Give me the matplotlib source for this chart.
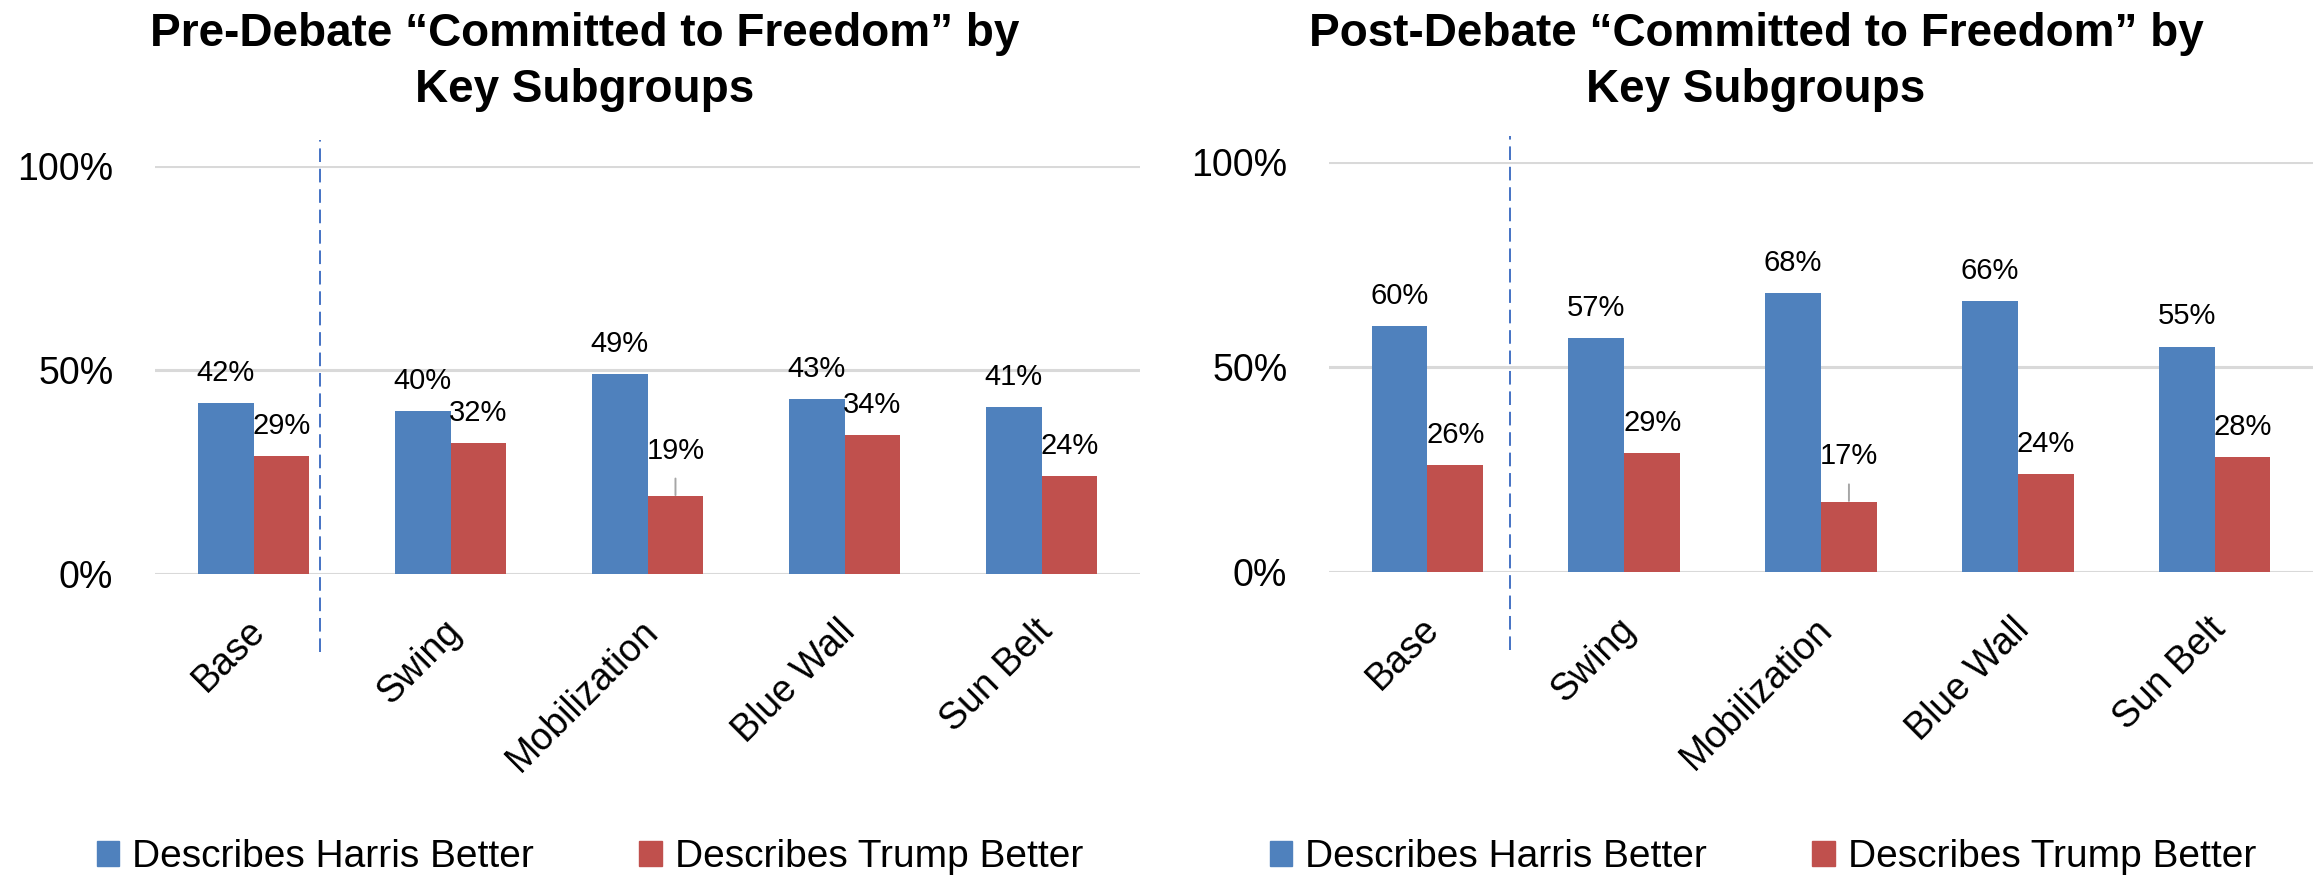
import matplotlib
matplotlib.use("Agg")
import matplotlib.pyplot as plt
import matplotlib.transforms as mtransforms
from matplotlib.patches import Patch
import numpy as np

plt.rcParams['font.family'] = ['Liberation Sans', 'DejaVu Sans']

categories = ["Base", "Swing", "Mobilization", "Blue Wall", "Sun Belt"]
pre_harris = [42, 40, 49, 43, 41]
pre_trump = [29, 32, 19, 34, 24]
post_harris = [60, 57, 68, 66, 55]
post_trump = [26, 29, 17, 24, 28]
series_names = ["Describes Harris Better", "Describes Trump Better"]
titles = ["Pre-Debate \u201cCommitted to Freedom\u201d by\nKey Subgroups",
          "Post-Debate \u201cCommitted to Freedom\u201d by\nKey Subgroups"]

BLUE = "#4F81BD"
RED = "#C0504D"
GRID = "#D9D9D9"

W, H = 2323, 877
fig = plt.figure(figsize=(W / 100, H / 100), dpi=100)


def frac(x0, x1, ytop, ybot):
    return [x0 / W, 1 - ybot / H, (x1 - x0) / W, (ybot - ytop) / H]


panels = [
    dict(rect=frac(155, 1140, 166, 574), h=pre_harris, t=pre_trump, div=0.34,
         title=titles[0], tx=585, lx=590),
    dict(rect=frac(1329, 2313, 162, 572), h=post_harris, t=post_trump, div=0.42,
         title=titles[1], tx=1756, lx=1763),
]

x = np.arange(len(categories))
bw = 0.284

for p in panels:
    ax = fig.add_axes(p["rect"])
    hv = np.array(p["h"]) / 100
    tv = np.array(p["t"]) / 100
    ax.bar(x - bw / 2, hv, bw, color=BLUE, zorder=3)
    ax.bar(x + bw / 2, tv, bw, color=RED, zorder=3)

    ax.set_xlim(-0.5, 4.5)
    ax.set_ylim(0, 1)
    ax.set_yticks([0, 0.5, 1])
    ax.set_yticklabels(["0%", "50%", "100%"])
    ax.yaxis.grid(True, color=GRID, linewidth=2.2, zorder=0)
    ax.set_axisbelow(True)
    for s in ax.spines.values():
        s.set_visible(False)
    ax.tick_params(axis="y", length=0, labelsize=27, pad=30)
    ax.tick_params(axis="x", length=0, labelsize=27, pad=28)
    ax.set_xticks(x)
    ax.set_xticklabels(categories, rotation=45, ha="right", rotation_mode="anchor")
    off = mtransforms.ScaledTranslation(-7 / 100, 0, fig.dpi_scale_trans)
    for lab in ax.get_xticklabels():
        lab.set_transform(lab.get_transform() + off)

    # divider between base and subgroups
    ax.plot([p["div"], p["div"]], [-0.19, 1.064], transform=ax.get_xaxis_transform(),
            color="#4472C4", linewidth=1.4, dashes=(7, 3.5), clip_on=False, zorder=4)

    # data labels
    for xi, v in zip(x - bw / 2, hv):
        ax.annotate(f"{round(v * 100)}%", (xi, v), xytext=(0, 21.6),
                    textcoords="offset points", ha="center", va="center", fontsize=21)
    for xi, v in zip(x + bw / 2, tv):
        if v < 0.2:
            ax.annotate(f"{round(v * 100)}%", (xi, v), xytext=(0, 33),
                        textcoords="offset points", ha="center", va="center", fontsize=21,
                        arrowprops=dict(arrowstyle="-", color="#A6A6A6", lw=1.4,
                                        shrinkA=8, shrinkB=1))
        else:
            ax.annotate(f"{round(v * 100)}%", (xi, v), xytext=(0, 21.6),
                        textcoords="offset points", ha="center", va="center", fontsize=21)

    fig.text(p["tx"] / W, 1 - 12 / H, p["title"], ha="center", va="top",
             fontsize=33, fontweight="bold", linespacing=1.35)

    handles = [Patch(color=BLUE), Patch(color=RED)]
    fig.legend(handles, series_names, loc="center", ncol=2,
               bbox_to_anchor=(p["lx"] / W, 1 - 857 / H), frameon=False,
               fontsize=28, handlelength=0.58, handleheight=0.62,
               handletextpad=0.34, columnspacing=2.7, borderpad=0)

fig.savefig("out.png", dpi=100)
